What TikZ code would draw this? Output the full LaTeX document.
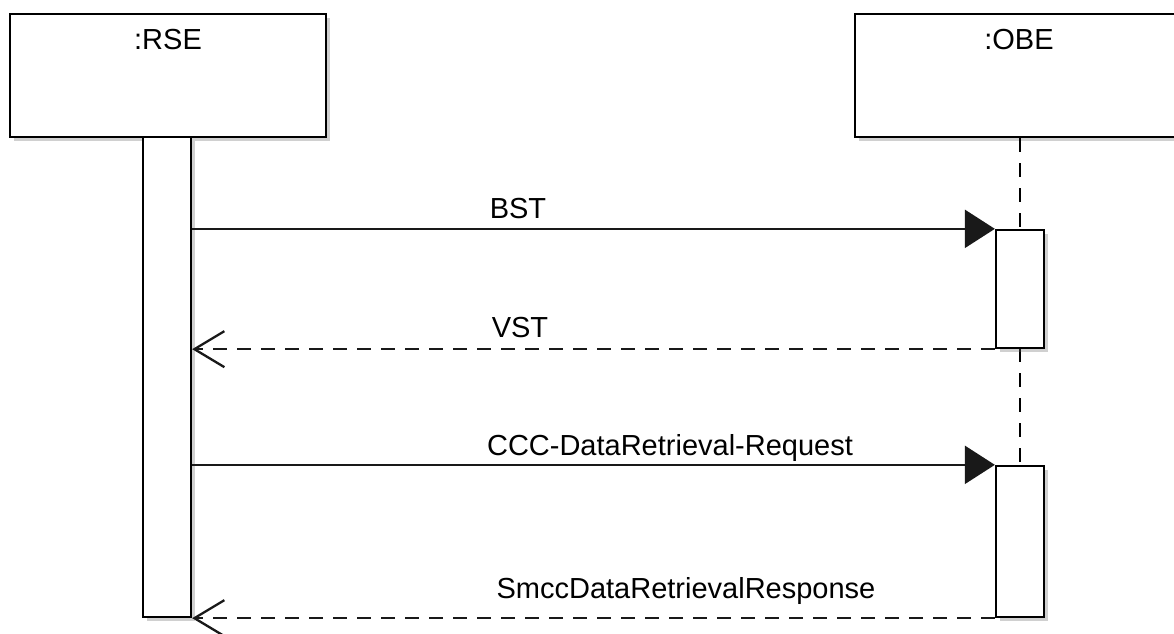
\documentclass[tikz,border=0pt]{standalone}
\usepackage{fontspec}
\setmainfont{Liberation Sans}
\usetikzlibrary{arrows.meta,shadows}

\begin{document}
\begin{tikzpicture}[x=1pt,y=-1pt,
  font=\fontsize{29}{34}\selectfont,
  ink/.style={line width=2.3pt,draw=black},
  lifebox/.style={ink,fill=white,rectangle,inner sep=0pt,
    drop shadow={opacity=0.3,fill=black!60,shadow xshift=3.5pt,shadow yshift=-3.5pt}},
  headbox/.style={lifebox,minimum width=#1,minimum height=123pt},
  actbar/.style={lifebox,minimum width=48pt,minimum height=#1},
  lifeline/.style={line width=2.3pt,draw=black,dash pattern=on 14pt off 11pt},
  callmsg/.style={line width=2.3pt,draw=black!90,-{Triangle[length=30pt,width=38pt]}},
  replymsg/.style={line width=2.3pt,draw=black!90,dash pattern=on 14pt off 10pt,
    -{Straight Barb[length=30pt,width=36pt]}},
  msglabel/.style={anchor=base,inner sep=0pt,text=black},
]
\clip (0,0) rectangle (1174,633);
\fill[white] (0,0) rectangle (1174,633);

% participant heads
\node[headbox=316pt] (rse) at (168,75.5) {};
\node[headbox=331pt] (obe) at (1020.5,75.5) {};
\node[msglabel] (rsename) at (168,49) {:RSE};
\node[msglabel] (obename) at (1019,49) {:OBE};

% OBE lifeline segments (behind the activation bars)
\coordinate (l1) at (1020,230);
\coordinate (l2) at (1020,348);
\coordinate (l3) at (1020,466);
\draw[lifeline] (obe.south -| l1) -- (l1);
\draw[lifeline] (l2) -- (l3);

% activation bars
\node[actbar=480pt] (rsea) at (167,377) {};
\node[actbar=118pt] (obea1) at (1020,289) {};
\node[actbar=151pt] (obea2) at (1020,541.5) {};

% messages
\draw[callmsg] (rsea.east |- obea1.north west) -- (obea1.north west);
\draw[replymsg] (obea1.south west) -- (rsea.east |- obea1.south west);
\draw[callmsg] (rsea.east |- obea2.north west) -- (obea2.north west);
\draw[replymsg] (obea2.south west) -- (rsea.south east);

% message labels
\node[msglabel] (bst) at (518,218) {BST};
\node[msglabel] (vst) at (520,337) {VST};
\node[msglabel] (req) at (670,455) {CCC-DataRetrieval-Request};
\node[msglabel] (resp) at (686,598) {SmccDataRetrievalResponse};
\end{tikzpicture}
\end{document}
